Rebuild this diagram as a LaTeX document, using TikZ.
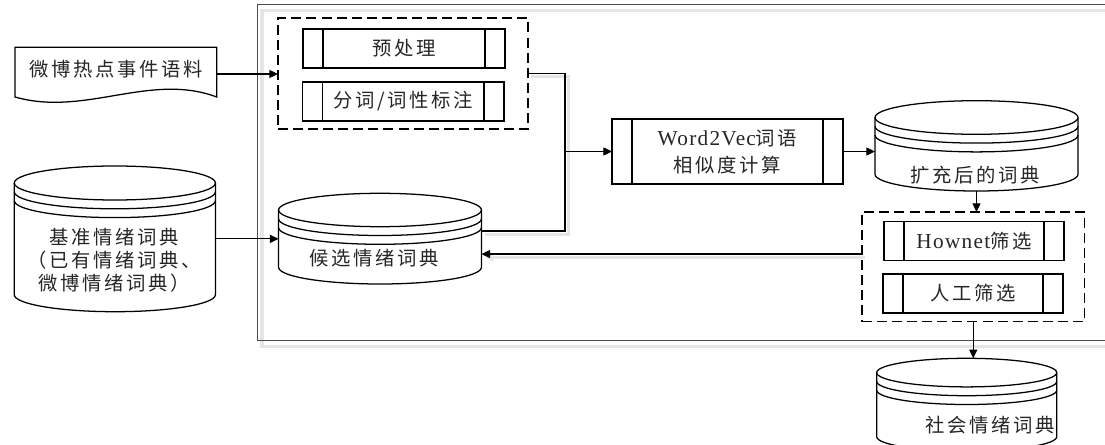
\documentclass[tikz,border=0pt]{standalone}
\usepackage{fontspec}
\newfontfamily\cjk[LetterSpace=14]{Noto Sans CJK SC}
\newfontfamily\lat[LetterSpace=6,Scale=1.1]{Liberation Serif}
\usetikzlibrary{arrows.meta,fit}
\newcommand\dbcyl[6]{%
  \pgfmathsetmacro\cylrx{(#3-#2)/2*0.75}%
  \pgfmathsetmacro\cylry{#6*0.75}%
  \pgfmathsetmacro\cylct{#4+#6}%
  \pgfmathsetmacro\cylcb{#5-#6}%
  \pgfmathsetmacro\cylca{#4+#6+8.8}%
  \pgfmathsetmacro\cylcc{#4+#6+17.6}%
  \node[ghost, fit={(#2,#4)(#3,#5)}] (#1) {};
  \draw[ln, fill=white] (#2,\cylct) -- (#2,\cylcb) arc[start angle=180, end angle=360, x radius=\cylrx pt, y radius=\cylry pt] -- (#3,\cylct) arc[start angle=0, end angle=180, x radius=\cylrx pt, y radius=\cylry pt] -- cycle;
  \draw[ln] (#2,\cylct) arc[start angle=180, end angle=360, x radius=\cylrx pt, y radius=\cylry pt];
  \draw[ln] (#2,\cylca) arc[start angle=180, end angle=360, x radius=\cylrx pt, y radius=\cylry pt];
  \draw[ln] (#2,\cylcc) arc[start angle=180, end angle=360, x radius=\cylrx pt, y radius=\cylry pt];
}
\newcommand\procbox[5]{%
  \node[box, fit={(#2,#3)(#4,#5)}] (#1) {};
  \draw[ln] ([xshift=15pt]#1.north west) -- ([xshift=15pt]#1.south west);
  \draw[ln] ([xshift=-15pt]#1.north east) -- ([xshift=-15pt]#1.south east);
}
\begin{document}
\begin{tikzpicture}[x=0.75pt,y=-0.75pt,
  ln/.style={line width=0.95pt, draw=black},
  ghost/.style={inner sep=0pt, outer sep=0pt, draw=none},
  box/.style={ln, fill=white, inner sep=0pt, outer sep=0pt},
  grp/.style={draw=black, line width=0.95pt, dash pattern=on 7.5pt off 3.8pt, inner sep=0pt, outer sep=0pt},
  txt/.style={font={\cjk\fontsize{14.5pt}{17.25pt}\selectfont}, text=black!85, align=center, inner sep=0pt},
  arr/.style={ln, -{Triangle[length=6.5pt,width=6pt]}},
  shad/.style={preaction={draw=black!10, line width=2pt, transform canvas={shift={(2.5pt,-2.5pt)}}}},
]
\useasboundingbox (0,0) rectangle (1105,445);
% container frame with its shadow
\draw[black!10, line width=2.4pt] (262,10.5) rectangle (1120,346.5);
\node[ghost, draw=black!70, line width=1pt, fit={(257.3,4.7)(1115,340.7)}] (frame) {};

% source document
\node[ghost, fit={(15,47.3)(216.7,100.7)}] (doc) {};
\draw[ln, fill=white] (doc.north west) -- (doc.north east) -- (216.7,97) .. controls (150,72) and (85,117) .. (15,97) -- cycle;
\node[txt] (doctxt) at (116,69) {微博热点事件语料};

% base dictionary
\dbcyl{base}{14.3}{215.4}{166}{311.7}{17}
\node[txt] (basetxt) at (114,260) {基准情绪词典\\（已有情绪词典、\\微博情绪词典）};

% preprocessing group
\node[grp, fit={(278,18)(528,129)}] (g1) {};
\procbox{pre}{303}{29}{505}{68}
\node[txt] (pretxt) at (pre) {预处理};
\procbox{seg}{302.5}{82}{504}{121}
\node[txt] (segtxt) at (seg) {分词/词性标注};

% candidate dictionary
\dbcyl{cand}{278.6}{481.4}{193.3}{284}{16.7}
\node[txt] (candtxt) at (374,258) {候选情绪词典};

% word2vec
\procbox{w2v}{612}{119}{843}{184}
\node[txt] (w2vtxt) at (w2v) {{\lat Word2Vec}词语\\[3pt]相似度计算};

% expanded dictionary
\dbcyl{exp}{875}{1078}{100.7}{191}{16.8}
\node[txt] (exptxt) at (975,175) {扩充后的词典};

% filtering group
\node[grp, fit={(862,212)(1084.5,321.7)}] (g2) {};
\procbox{how}{884}{221.7}{1064}{260.7}
\node[txt] (howtxt) at (how) {{\lat Hownet}筛选};
\procbox{man}{883}{274}{1063}{313}
\node[txt] (mantxt) at (man) {人工筛选};

% social dictionary
\dbcyl{soc}{876.7}{1056.7}{358.3}{451}{14.3}
\node[txt] (soctxt) at (990,425) {社会情绪词典};

% connectors
\coordinate (join) at ([xshift=-35.25pt]w2v.west);
\draw[arr] (doc.east) -- (doc.east -| g1.west);
\draw[arr] (base.east) -- (base.east -| cand.west);
\draw[ln, shad] (g1.east) -| (join);
\draw[ln, shad] ([yshift=5.8pt]cand.east) -| (join);
\draw[arr] (join) -- (w2v.west);
\draw[arr] (w2v.east) -- (w2v.east -| exp.west);
\draw[arr] (exp.south) -- (exp.south |- g2.north);
\draw[arr] (g2.south) -- (g2.south |- soc.north);
\draw[arr, shad] ([yshift=9.6pt]g2.west) -- ([yshift=9.6pt]g2.west -| cand.east);
\end{tikzpicture}
\end{document}
